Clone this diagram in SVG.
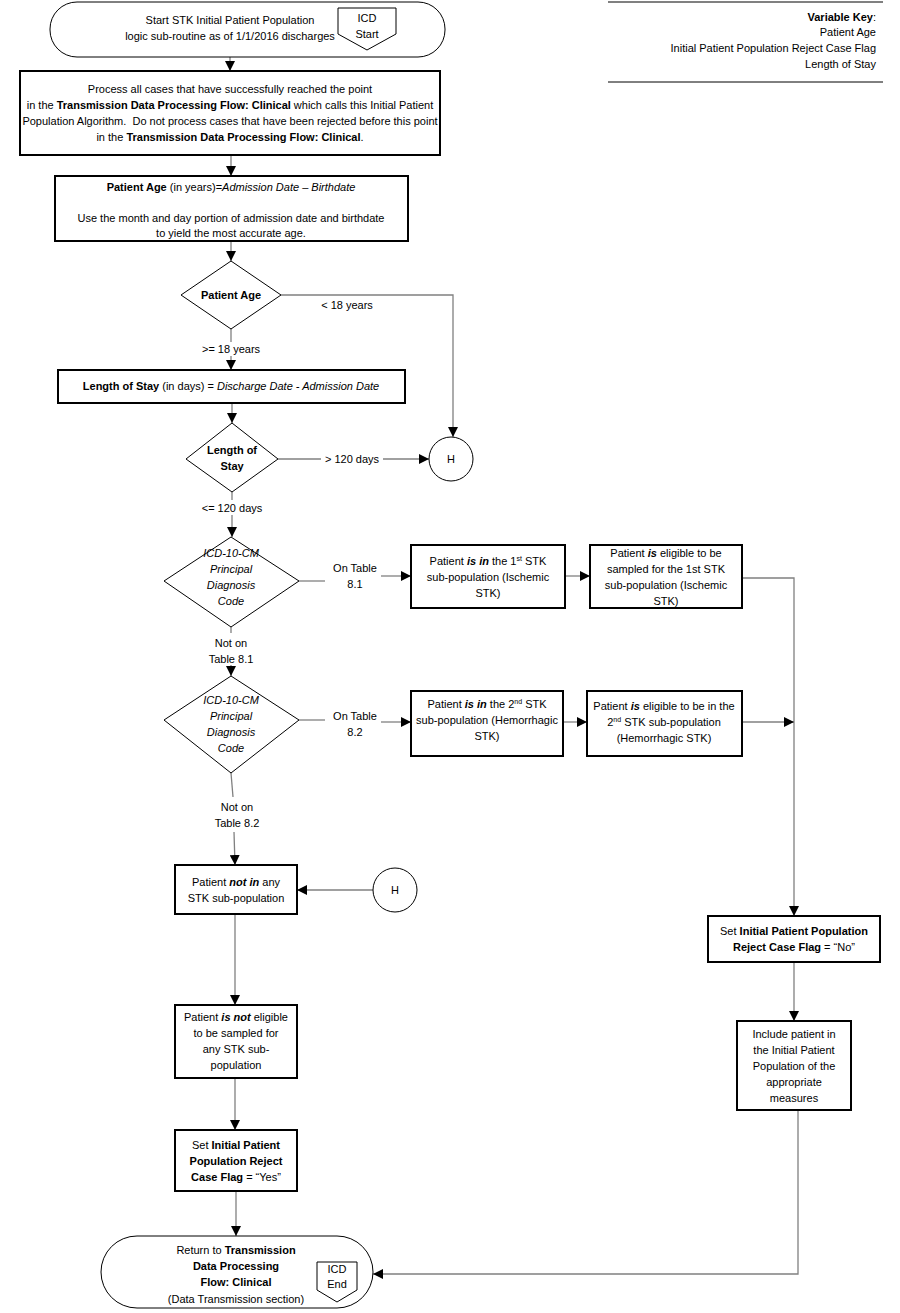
<svg xmlns="http://www.w3.org/2000/svg" width="900" height="1313" viewBox="0 0 900 1313">
<defs>
<marker id="arr" markerUnits="userSpaceOnUse" markerWidth="10" markerHeight="10" viewBox="0 0 10 10" refX="10" refY="5" orient="auto">
<path d="M0,0 L10,5 L0,10 Z" fill="#000"/>
</marker>
</defs>
<style>
text{font-family:"Liberation Sans",Arial,sans-serif;font-size:11px;fill:#000;text-anchor:middle}
.b{font-weight:bold}
.i{font-style:italic}
.bi{font-weight:bold;font-style:italic}
.sup{font-size:7px}
.box{fill:#fff;stroke:#000;stroke-width:2}
.term{fill:#fff;stroke:#000;stroke-width:1}
.conn{fill:none;stroke:#808080;stroke-width:1.3}
</style>
<rect width="900" height="1313" fill="#fff"/>

<g id="key">
<line x1="608" y1="2" x2="883" y2="2" stroke="#808080" stroke-width="2"/>
<line x1="608" y1="82" x2="883" y2="82" stroke="#000" stroke-width="1"/>
<text x="876" y="21" style="text-anchor:end"><tspan class="b">Variable Key</tspan>:</text>
<text x="876" y="36" style="text-anchor:end">Patient Age</text>
<text x="876" y="52" style="text-anchor:end">Initial Patient Population Reject Case Flag</text>
<text x="876" y="68" style="text-anchor:end">Length of Stay</text>
</g>

<g id="connectors">
<line class="conn" x1="230" y1="57" x2="230" y2="71" marker-end="url(#arr)"/>
<line class="conn" x1="231" y1="155" x2="231" y2="176" marker-end="url(#arr)"/>
<line class="conn" x1="231" y1="241" x2="231" y2="261" marker-end="url(#arr)"/>
<polyline class="conn" points="281,295 453,295 453,437" marker-end="url(#arr)"/>
<line class="conn" x1="231" y1="329" x2="231" y2="342"/>
<line class="conn" x1="231" y1="356" x2="231" y2="370" marker-end="url(#arr)"/>
<line class="conn" x1="232" y1="403" x2="232" y2="423" marker-end="url(#arr)"/>
<line class="conn" x1="278" y1="459" x2="321" y2="459"/>
<line class="conn" x1="383" y1="459" x2="429" y2="459" marker-end="url(#arr)"/>
<line class="conn" x1="232" y1="492" x2="232" y2="500"/>
<line class="conn" x1="232" y1="515" x2="232" y2="537" marker-end="url(#arr)"/>
<line class="conn" x1="299" y1="581" x2="325" y2="581"/>
<line class="conn" x1="381" y1="576" x2="411" y2="576" marker-end="url(#arr)"/>
<line class="conn" x1="565" y1="576" x2="590" y2="576" marker-end="url(#arr)"/>
<polyline class="conn" points="742,578 794,578 794,916" marker-end="url(#arr)"/>
<line class="conn" x1="231" y1="627" x2="231" y2="633"/>
<line class="conn" x1="231" y1="665" x2="231" y2="676" marker-end="url(#arr)"/>
<line class="conn" x1="299" y1="720" x2="325" y2="720"/>
<line class="conn" x1="381" y1="722" x2="411" y2="722" marker-end="url(#arr)"/>
<line class="conn" x1="563" y1="722" x2="587" y2="722" marker-end="url(#arr)"/>
<line class="conn" x1="742" y1="722" x2="794" y2="722" marker-end="url(#arr)"/>
<line class="conn" x1="231" y1="773" x2="233" y2="797"/>
<line class="conn" x1="234" y1="832" x2="235" y2="865" marker-end="url(#arr)"/>
<line class="conn" x1="373" y1="890" x2="297" y2="890" marker-end="url(#arr)"/>
<line class="conn" x1="235" y1="914" x2="235" y2="1005" marker-end="url(#arr)"/>
<line class="conn" x1="235" y1="1078" x2="235" y2="1130" marker-end="url(#arr)"/>
<line class="conn" x1="236" y1="1191" x2="236" y2="1236" marker-end="url(#arr)"/>
<line class="conn" x1="794" y1="962" x2="794" y2="1021" marker-end="url(#arr)"/>
<polyline class="conn" points="798,1110 798,1274 373,1274" marker-end="url(#arr)"/>
<text x="347" y="309">&lt; 18 years</text>
<text x="231" y="353">&gt;= 18 years</text>
<text x="352" y="463">&gt; 120 days</text>
<text x="232" y="512">&lt;= 120 days</text>
<text x="355" y="572">On Table</text>
<text x="355" y="588">8.1</text>
<text x="231" y="647">Not on</text>
<text x="231" y="663">Table 8.1</text>
<text x="355" y="720">On Table</text>
<text x="355" y="736">8.2</text>
<text x="237" y="811">Not on</text>
<text x="237" y="827">Table 8.2</text>
</g>

<g id="start">
<rect class="term" x="50" y="2" width="395" height="55" rx="27" ry="27"/>
<text x="230" y="24">Start STK Initial Patient Population</text>
<text x="230" y="40">logic sub-routine as of 1/1/2016 discharges</text>
<polygon class="term" points="338,8 396,8 396,34 367,50 338,34"/>
<text x="367" y="22">ICD</text>
<text x="367" y="38">Start</text>
</g>

<g id="process-all">
<rect class="box" x="20" y="71" width="420" height="84"/>
<text x="230" y="93">Process all cases that have successfully reached the point</text>
<text x="230" y="109">in the <tspan class="b">Transmission Data Processing Flow: Clinical</tspan> which calls this Initial Patient</text>
<text x="230" y="125">Population Algorithm.&#160; Do not process cases that have been rejected before this point</text>
<text x="230" y="141">in the <tspan class="b">Transmission Data Processing Flow: Clinical</tspan>.</text>
</g>

<g id="patient-age-calc">
<rect class="box" x="55" y="176" width="353" height="65"/>
<text x="231" y="191"><tspan class="b">Patient Age</tspan> (in years)=<tspan class="i">Admission Date – Birthdate</tspan></text>
<text x="231" y="222">Use the month and day portion of admission date and birthdate</text>
<text x="231" y="237">to yield the most accurate age.</text>
</g>

<g id="patient-age-dec">
<polygon class="term" points="231,261 281,295 231,329 181,295"/>
<text x="231" y="299" class="b">Patient Age</text>
</g>

<g id="los-calc">
<rect class="box" x="58" y="370" width="347" height="33"/>
<text x="231" y="390"><tspan class="b">Length of Stay</tspan> (in days) = <tspan class="i">Discharge Date - Admission Date</tspan></text>
</g>

<g id="los-dec">
<polygon class="term" points="232,423 278,459 232,492 186,459"/>
<text x="232" y="454" class="b">Length of</text>
<text x="232" y="470" class="b">Stay</text>
</g>

<g id="h1">
<circle class="term" cx="451" cy="459" r="22"/>
<text x="451" y="463">H</text>
</g>

<g id="dx1">
<polygon class="term" points="231,537 299,581 231,627 164,581"/>
<text x="231" y="557" class="i">ICD-10-CM</text>
<text x="231" y="573" class="i">Principal</text>
<text x="231" y="589" class="i">Diagnosis</text>
<text x="231" y="605" class="i">Code</text>
</g>

<g id="ischemic-in">
<rect class="box" x="411" y="545" width="154" height="63"/>
<text x="488" y="565">Patient <tspan class="bi">is in</tspan> the 1<tspan class="sup" dy="-4">st</tspan><tspan dy="4"> STK</tspan></text>
<text x="488" y="581">sub-population (Ischemic</text>
<text x="488" y="597">STK)</text>
</g>

<g id="ischemic-eligible">
<rect class="box" x="590" y="545" width="152" height="63"/>
<text x="666" y="557">Patient <tspan class="bi">is</tspan> eligible to be</text>
<text x="666" y="573">sampled for the 1st STK</text>
<text x="666" y="589">sub-population (Ischemic</text>
<text x="666" y="605">STK)</text>
</g>

<g id="dx2">
<polygon class="term" points="231,676 299,720 231,773 164,720"/>
<text x="231" y="704" class="i">ICD-10-CM</text>
<text x="231" y="720" class="i">Principal</text>
<text x="231" y="736" class="i">Diagnosis</text>
<text x="231" y="752" class="i">Code</text>
</g>

<g id="hemorrhagic-in">
<rect class="box" x="411" y="691" width="152" height="65"/>
<text x="487" y="708">Patient <tspan class="bi">is in</tspan> the 2<tspan class="sup" dy="-4">nd</tspan><tspan dy="4"> STK</tspan></text>
<text x="487" y="724">sub-population (Hemorrhagic</text>
<text x="487" y="740">STK)</text>
</g>

<g id="hemorrhagic-eligible">
<rect class="box" x="587" y="691" width="155" height="65"/>
<text x="664" y="710">Patient <tspan class="bi">is</tspan> eligible to be in the</text>
<text x="664" y="726">2<tspan class="sup" dy="-4">nd</tspan><tspan dy="4"> STK sub-population</tspan></text>
<text x="664" y="742">(Hemorrhagic STK)</text>
</g>

<g id="not-in">
<rect class="box" x="175" y="865" width="122" height="49"/>
<text x="236" y="886">Patient <tspan class="bi">not in</tspan> any</text>
<text x="236" y="902">STK sub-population</text>
</g>

<g id="h2">
<circle class="term" cx="395" cy="890" r="22"/>
<text x="395" y="894">H</text>
</g>

<g id="not-eligible">
<rect class="box" x="175" y="1005" width="122" height="73"/>
<text x="236" y="1021">Patient <tspan class="bi">is not</tspan> eligible</text>
<text x="236" y="1037">to be sampled for</text>
<text x="236" y="1053">any STK sub-</text>
<text x="236" y="1069">population</text>
</g>

<g id="flag-yes">
<rect class="box" x="175" y="1130" width="122" height="61"/>
<text x="236" y="1149">Set <tspan class="b">Initial Patient</tspan></text>
<text x="236" y="1165" class="b">Population Reject</text>
<text x="236" y="1181"><tspan class="b">Case Flag</tspan> = “Yes”</text>
</g>

<g id="flag-no">
<rect class="box" x="708" y="916" width="172" height="46"/>
<text x="794" y="935">Set <tspan class="b">Initial Patient Population</tspan></text>
<text x="794" y="951"><tspan class="b">Reject Case Flag</tspan> = “No”</text>
</g>

<g id="include">
<rect class="box" x="737" y="1021" width="114" height="89"/>
<text x="794" y="1038">Include patient in</text>
<text x="794" y="1054">the Initial Patient</text>
<text x="794" y="1070">Population of the</text>
<text x="794" y="1086">appropriate</text>
<text x="794" y="1102">measures</text>
</g>

<g id="end">
<rect class="term" x="101" y="1236" width="272" height="72" rx="36" ry="36"/>
<text x="236" y="1254">Return to <tspan class="b">Transmission</tspan></text>
<text x="236" y="1270" class="b">Data Processing</text>
<text x="236" y="1286" class="b">Flow: Clinical</text>
<text x="236" y="1303">(Data Transmission section)</text>
<polygon class="term" points="317,1262 357,1262 357,1290 337,1302 317,1290"/>
<text x="337" y="1273">ICD</text>
<text x="337" y="1288">End</text>
</g>
</svg>
